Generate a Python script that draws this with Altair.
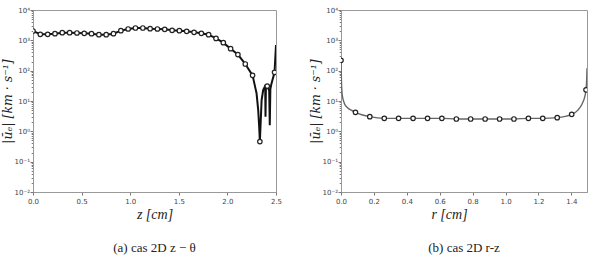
import altair as alt
import pandas as pd

# ---------------- data ----------------
# (a) cas 2D z-theta : markers
a_marker_z = [0.0, 0.075, 0.151, 0.226, 0.301, 0.377, 0.452, 0.527, 0.602, 0.678,
              0.753, 0.828, 0.904, 0.979, 1.054, 1.130, 1.205, 1.280, 1.355, 1.431,
              1.506, 1.581, 1.657, 1.732, 1.807, 1.883, 1.958, 2.033, 2.108, 2.184,
              2.259, 2.334, 2.410, 2.485]
a_marker_u = [2030, 1580, 1580, 1660, 1790, 1790, 1750, 1700, 1660, 1540,
              1540, 1660, 2080, 2370, 2550, 2550, 2430, 2370, 2310, 2140,
              2080, 1980, 1840, 1700, 1540, 1160, 840, 530, 340, 166,
              70, 0.46, 31, 88]
# (a) extra curve points between markers (oscillations near the wall)
a_extra_z = [2.300, 2.317, 2.327, 2.352, 2.368, 2.385, 2.389, 2.392, 2.396,
             2.430, 2.436, 2.442, 2.454, 2.500]
a_extra_u = [17.8, 5.0, 1.4, 10.7, 22.9, 29.5, 28.0, 3.0, 26.0,
             22.0, 1.6, 25.0, 38.0, 700]

# (b) cas 2D r-z : markers
b_marker_r = [0.0, 0.088, 0.175, 0.263, 0.350, 0.438, 0.526, 0.613, 0.701, 0.788,
              0.876, 0.964, 1.051, 1.139, 1.226, 1.314, 1.402, 1.489]
b_marker_u = [219, 4.24, 3.04, 2.68, 2.68, 2.68, 2.68, 2.68, 2.55, 2.55,
              2.55, 2.55, 2.55, 2.68, 2.68, 2.82, 3.63, 23.4]
b_extra_r = [0.003, 0.008, 0.020, 0.040, 0.065, 1.440, 1.465, 1.480, 1.493, 1.495]
b_extra_u = [40, 15, 8.5, 6.0, 4.9, 5.0, 8.0, 13.0, 50, 120]

y_decades = [0.01, 0.1, 1, 10, 100, 1000, 10000]
y_decade_labels = ["10⁻²", "10⁻¹", "10⁰", "10¹", "10²", "10³", "10⁴"]
a_x_ticks = [0.0, 0.5, 1.0, 1.5, 2.0, 2.5]
b_x_ticks = [0.0, 0.2, 0.4, 0.6, 0.8, 1.0, 1.2, 1.4]

y_title = "|ūₑ| [km · s⁻¹]"
a_x_title = "z [cm]"
b_x_title = "r [cm]"
a_caption = "(a) cas 2D z − θ"
b_caption = "(b) cas 2D r-z"

# ---------------- tables ----------------
a_markers = pd.DataFrame({"x": a_marker_z, "u": a_marker_u})
a_line = pd.concat([a_markers, pd.DataFrame({"x": a_extra_z, "u": a_extra_u})]).sort_values("x")
b_markers = pd.DataFrame({"x": b_marker_r, "u": b_marker_u})
b_line = pd.concat([b_markers, pd.DataFrame({"x": b_extra_r, "u": b_extra_u})]).sort_values("x")

y_values = [k * 10.0 ** e for e in range(-2, 4) for k in range(1, 10)] + [10000]
y_values = [round(v, 4) for v in y_values]

label_expr = "".join(
    f"datum.value == {v} ? '{l}' : " for v, l in zip(y_decades, y_decade_labels)
) + "''"
decade_test = "indexof([0.01, 0.1, 1, 10, 100, 1000, 10000], datum.value) >= 0"

tick_color = "#555"
label_color = "#444"


def y_axis():
    return alt.Axis(
        values=y_values,
        labelExpr=label_expr,
        title=y_title,
        titleFont="DejaVu Serif",
        titleFontStyle="italic",
        titleFontWeight="normal",
        titleFontSize=12.5,
        titleColor="#222",
        titlePadding=0,
        labelFont="DejaVu Sans",
        labelFontSize=7,
        labelColor=label_color,
        labelPadding=0.5,
        tickColor=tick_color,
        tickSize={"condition": {"test": decade_test, "value": 3}, "value": 1.8},
        tickWidth=0.8,
        domainColor="#999",
        grid=False,
        labelOverlap=False,
    )


def x_axis(ticks, title, title_x=None):
    kw = {}
    if title_x is not None:
        kw["titleX"] = title_x
    return alt.Axis(
        values=ticks,
        format=".1f",
        title=title,
        titleFont="Liberation Serif",
        titleFontStyle="italic",
        titleFontWeight="normal",
        titleFontSize=14,
        titleColor="#222",
        titlePadding=3,
        labelFont="DejaVu Sans",
        labelFontSize=7,
        labelColor=label_color,
        labelPadding=2,
        tickColor=tick_color,
        tickSize=3,
        tickWidth=0.8,
        domainColor="#999",
        grid=False,
        labelFlush=False,
        labelOverlap=False,
        **kw,
    )


def panel(line_df, marker_df, xdomain, ticks, xtitle, caption, line_color, line_width,
          interp, width, title_x=None):
    xs = alt.Scale(domain=xdomain, nice=False, zero=False)
    ys = alt.Scale(type="log", domain=[0.01, 10000], nice=False)
    x_enc = alt.X("x:Q", scale=xs, axis=x_axis(ticks, xtitle, title_x))
    y_enc = alt.Y("u:Q", scale=ys, axis=y_axis())
    line = alt.Chart(line_df).mark_line(
        color=line_color, strokeWidth=line_width, interpolate=interp, clip=True
    ).encode(x=x_enc, y=y_enc)
    pts = alt.Chart(marker_df).mark_point(
        shape="circle", size=20, filled=False, fill="white", fillOpacity=1,
        stroke="#222", strokeWidth=1.2, opacity=1, clip=True
    ).encode(x=x_enc, y=y_enc)
    return alt.layer(line, pts).properties(
        width=width,
        height=182,
        title=alt.TitleParams(
            text=caption, orient="bottom", font="Liberation Serif", fontSize=13,
            fontWeight="normal", color="#222", offset=21,
        ),
    )


left = panel(a_line, a_markers, [0, 2.5], a_x_ticks, a_x_title, a_caption,
             "#111", 2.0, "linear", 243)
right = panel(b_line, b_markers, [0, 1.495], b_x_ticks, b_x_title, b_caption,
              "#666", 1.4, "monotone", 246, title_x=108)

chart = alt.hconcat(left, right, spacing=65, bounds="flush").properties(
    padding={"left": 0, "top": 5, "right": 2, "bottom": 2},
    background="white",
).configure_view(stroke="#999", strokeWidth=1)

chart.save("out.html", embed_options={"renderer": "svg", "actions": False})
